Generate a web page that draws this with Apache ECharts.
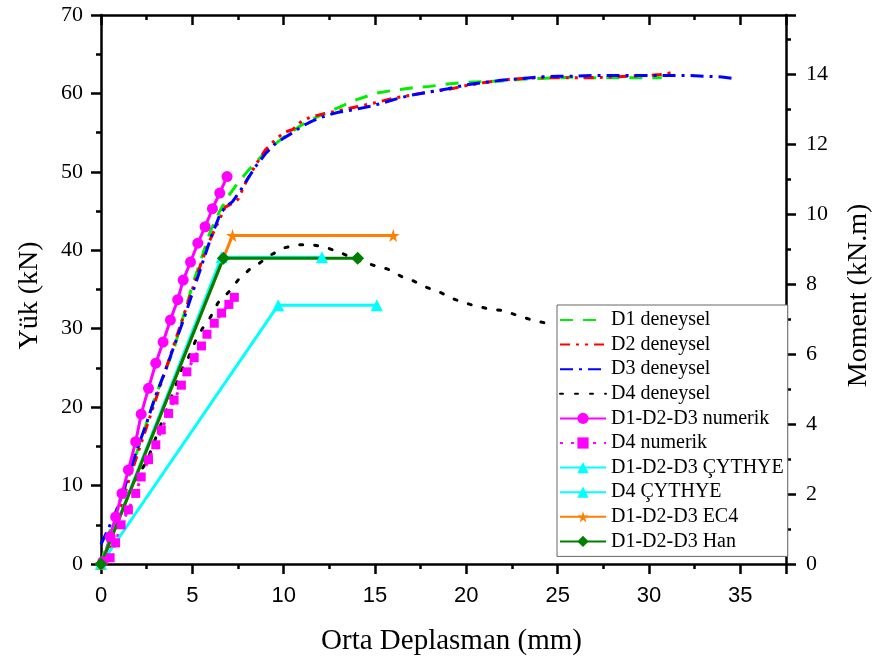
<!DOCTYPE html>
<html>
<head>
<meta charset="utf-8">
<script src="https://cdn.jsdelivr.net/npm/echarts@6/dist/echarts.min.js"></script>
<style>
  html, body { margin: 0; padding: 0; background: #fff; }
  #chart { width: 875px; height: 666px; }
</style>
</head>
<body>
<div id="chart"></div>
<script>
// Load–midspan deflection curves, [deflection (mm), load (kN)]
const d1Deneysel = [[0,0],[0.5,4.3],[1,7.5],[1.5,11],[2,14.5],[2.5,18],[3,21.5],[3.5,24.5],[4,27.5],[4.5,31.5],[5,35.5],[5.5,39],[6,42.5],[6.5,45],[7,47],[7.5,48.6],[8,50],[8.5,51.3],[9,52.5],[9.5,53.5],[10,54.4],[10.5,55.2],[11,56],[11.5,56.6],[12,57.2],[12.5,57.7],[13,58.2],[14,59.2],[15,60],[16,60.4],[17,60.7],[18,60.9],[19,61.2],[20,61.4],[21,61.5],[22,61.6],[23,61.8],[24,61.9],[25,62],[26,62.1],[27,62],[28,62],[29,62],[30,62],[30.7,62]];
const d2Deneysel = [[0.3,0],[0.6,3.5],[1,6.5],[1.5,10.5],[2,14],[2.5,17.5],[3,21],[3.5,24.5],[4,28],[4.5,31.5],[5,35],[5.5,38.5],[6,41.5],[6.5,44],[6.8,45.5],[7.2,46],[7.5,46.5],[8,49],[8.5,51],[9,52.8],[9.5,54],[10,55],[10.5,55.4],[11,56.5],[11.5,57],[12,57.3],[13,57.8],[14,58.3],[15,58.8],[16,59.4],[17,59.8],[18,60.2],[19,60.5],[20,61],[21,61.4],[22,61.7],[23,61.9],[24,62],[25,62],[26,62],[27,62],[28,62.1],[29,62.2],[30,62.3],[30.6,62.4],[31,62.5],[31.4,62.8]];
const d3Deneysel = [[0,2.5],[0.3,4],[0.7,6],[1,7.8],[1.5,11.2],[2,14.8],[2.5,18],[3,21.5],[3.5,24.5],[4,27.8],[4.5,31],[5,34.5],[5.5,38],[6,41.5],[6.5,44.5],[6.8,45.5],[7.2,46.2],[7.6,47.5],[8,49],[8.5,50.8],[9,52.3],[9.5,53.5],[10,54.3],[10.5,55],[11,55.8],[11.5,56.4],[12,56.9],[12.5,57.3],[13,57.6],[14,58],[15,58.5],[16,59.2],[17,59.8],[18,60.2],[19,60.6],[20,61.1],[21,61.4],[22,61.7],[23,61.9],[24,62.1],[25,62.2],[26,62.2],[27,62.3],[28,62.3],[29,62.3],[30,62.3],[31,62.3],[32,62.3],[33,62.2],[34,62.1],[34.6,61.9]];
const d4Deneysel = [[0,0],[0.5,2.8],[1,5.8],[1.5,9],[2,11.3],[2.5,13],[3.1,16.7],[3.7,20.3],[4.0,22.2],[4.4,24.7],[4.8,26.4],[5.2,28.6],[5.6,30.2],[6.0,31.5],[6.4,33.3],[7.0,34.7],[7.5,36.2],[8.1,37.5],[8.7,38.4],[9.3,39.4],[10.0,40.3],[10.8,40.7],[11.6,40.7],[12.4,40.3],[13.2,39.6],[14.0,38.8],[14.9,38.1],[15.7,37.6],[16.5,36.6],[17.1,36.1],[17.8,35.3],[18.6,34.6],[19.4,33.7],[20.2,33.1],[21.1,32.6],[22.0,32.3],[22.8,31.7],[23.6,31.1],[24.6,30.6]];
const d123Numerik = [[0.1,0.3],[0.5,3.5],[0.8,6],[1.15,9],[1.5,12],[1.9,15.6],[2.2,19.1],[2.6,22.4],[3.0,25.6],[3.4,28.3],[3.8,31.1],[4.2,33.7],[4.5,36.2],[4.9,38.5],[5.3,40.9],[5.7,43.0],[6.1,45.3],[6.5,47.3],[6.9,49.4]];
const d4Numerik = [[0.5,0.8],[0.8,2.7],[1.1,5.0],[1.5,6.9],[1.9,9.0],[2.2,11.1],[2.6,13.3],[3.0,15.2],[3.3,17.1],[3.7,19.2],[4.0,20.9],[4.4,22.8],[4.7,24.5],[5.1,26.3],[5.5,27.8],[5.8,29.3],[6.2,30.7],[6.6,32.0],[7.0,33.1],[7.3,34.0]];
const d123Cythye = [[0,0],[6.6,39.1],[12.1,39.1]];
const d4Cythye = [[0,0],[9.7,33.0],[15.1,33.0]];
const d123Ec4 = [[0,0],[7.2,41.9],[16.0,41.9]];
const d123Han = [[0,0],[6.7,39.0],[14.05,39.0]];

// Axis settings
const xRange = [0, 37.5];
const loadRange = [0, 70];
const momentRange = [0, 15.686];
const seriesNames = ['D1 deneysel','D2 deneysel','D3 deneysel','D4 deneysel','D1-D2-D3 numerik','D4 numerik','D1-D2-D3 ÇYTHYE','D4 ÇYTHYE','D1-D2-D3 EC4','D1-D2-D3 Han'];
// measured curves are drawn as plain lines, without markers
const lineOnly = ['D1 deneysel','D2 deneysel','D3 deneysel','D4 deneysel'];

const serif = 'Liberation Serif';
const sans = 'Liberation Sans';
const starPath = 'path://M50,0 L61,35 L98,35 L68,57 L79,91 L50,70 L21,91 L32,57 L2,35 L39,35 Z';

function curve(name, data, color, dash, extra) {
  return Object.assign({
    name: name,
    type: 'line',
    data: data,
    xAxisIndex: 0,
    yAxisIndex: 0,
    symbol: 'none',
    lineStyle: { color: color, width: 3, type: dash, cap: 'butt' },
    itemStyle: { color: color },
    clip: false
  }, extra || {});
}

const legendData = seriesNames.map(function (n) {
  return lineOnly.indexOf(n) >= 0
    ? { name: n, itemStyle: { color: 'rgba(0,0,0,0)', borderColor: 'rgba(0,0,0,0)', borderWidth: 0 } }
    : { name: n };
});

const axisLineStyle = { color: '#000', width: 2.5 };

const chart = echarts.init(document.getElementById('chart'), null, { renderer: 'canvas' });
chart.setOption({
  animation: false,
  backgroundColor: '#fff',
  grid: { left: 101, right: 89, top: 15, bottom: 102, containLabel: false, outerBoundsMode: 'none' },
  legend: {
    data: legendData,
    orient: 'vertical',
    left: 557,
    top: 305,
    padding: [5, 4, 5, 2],
    itemGap: 4.6,
    itemWidth: 46,
    itemHeight: 14,
    backgroundColor: '#fff',
    borderColor: '#666',
    borderWidth: 1,
    borderRadius: 0,
    textStyle: { fontFamily: serif, fontSize: 20, color: '#000' }
  },
  xAxis: [{
    type: 'value', position: 'bottom', min: xRange[0], max: xRange[1], interval: 5,
    name: 'Orta Deplasman (mm)', nameLocation: 'middle', nameGap: 63,
    nameTextStyle: { fontFamily: serif, fontSize: 29, color: '#000', padding: [0, 0, 0, 16] },
    axisLine: { show: true, onZero: false, lineStyle: axisLineStyle },
    axisTick: { show: true, inside: false, length: 10, lineStyle: axisLineStyle },
    minorTick: { show: true, splitNumber: 2, length: 5, lineStyle: axisLineStyle },
    axisLabel: { fontFamily: sans, fontSize: 22, color: '#000', margin: 21, showMaxLabel: false },
    splitLine: { show: false }
  }, {
    type: 'value', position: 'top', min: xRange[0], max: xRange[1], interval: 5,
    axisLine: { show: true, onZero: false, lineStyle: axisLineStyle },
    axisTick: { show: true, inside: true, length: 10, lineStyle: axisLineStyle },
    minorTick: { show: true, splitNumber: 2, length: 5, lineStyle: axisLineStyle },
    axisLabel: { show: false },
    splitLine: { show: false }
  }],
  yAxis: [{
    type: 'value', position: 'left', min: loadRange[0], max: loadRange[1], interval: 10,
    name: 'Yük (kN)', nameLocation: 'middle', nameGap: 57, nameRotate: 90,
    nameTextStyle: { fontFamily: serif, fontSize: 28, color: '#000', padding: [0, 12, 0, 0] },
    axisLine: { show: true, onZero: false, lineStyle: axisLineStyle },
    axisTick: { show: true, inside: false, length: 10, lineStyle: axisLineStyle },
    minorTick: { show: true, splitNumber: 2, length: 5, lineStyle: axisLineStyle },
    axisLabel: { fontFamily: serif, fontSize: 22, color: '#000', margin: 18 },
    splitLine: { show: false }
  }, {
    type: 'value', position: 'right', min: momentRange[0], max: momentRange[1], interval: 2,
    name: 'Moment (kN.m)', nameLocation: 'middle', nameGap: 59, nameRotate: 90,
    nameTextStyle: { fontFamily: serif, fontSize: 28, color: '#000', padding: [0, 12, 0, 0] },
    axisLine: { show: true, onZero: false, lineStyle: axisLineStyle },
    axisTick: { show: true, inside: false, length: 10, lineStyle: axisLineStyle },
    minorTick: { show: true, splitNumber: 2, length: 5, lineStyle: axisLineStyle },
    axisLabel: { fontFamily: serif, fontSize: 22, color: '#000', margin: 20, showMaxLabel: false },
    splitLine: { show: false }
  }],
  series: [
    curve(seriesNames[0], d1Deneysel, '#00ee00', [13, 10]),
    curve(seriesNames[1], d2Deneysel, '#ff0000', [10, 6, 3, 6, 3, 6]),
    curve(seriesNames[2], d3Deneysel, '#0000ff', [13, 6, 3, 6]),
    curve(seriesNames[3], d4Deneysel, '#000000', [3, 12], { lineStyle: { color: '#000', width: 3, type: [3, 12], cap: 'round' } }),
    curve(seriesNames[4], d123Numerik, '#ff00ff', 'solid', { symbol: 'circle', symbolSize: 11, showSymbol: true }),
    curve(seriesNames[5], d4Numerik, '#ff00ff', [3, 8], { symbol: 'rect', symbolSize: 9, showSymbol: true }),
    curve(seriesNames[6], d123Cythye, '#00ffff', 'solid', { symbol: 'triangle', symbolSize: 12, showSymbol: true }),
    curve(seriesNames[7], d4Cythye, '#00ffff', 'solid', { symbol: 'triangle', symbolSize: 12, showSymbol: true }),
    curve(seriesNames[8], d123Ec4, '#ff7f00', 'solid', { symbol: starPath, symbolSize: 13, showSymbol: true }),
    curve(seriesNames[9], d123Han, '#007f00', 'solid', { symbol: 'diamond', symbolSize: 13, showSymbol: true })
  ]
});
</script>
</body>
</html>
